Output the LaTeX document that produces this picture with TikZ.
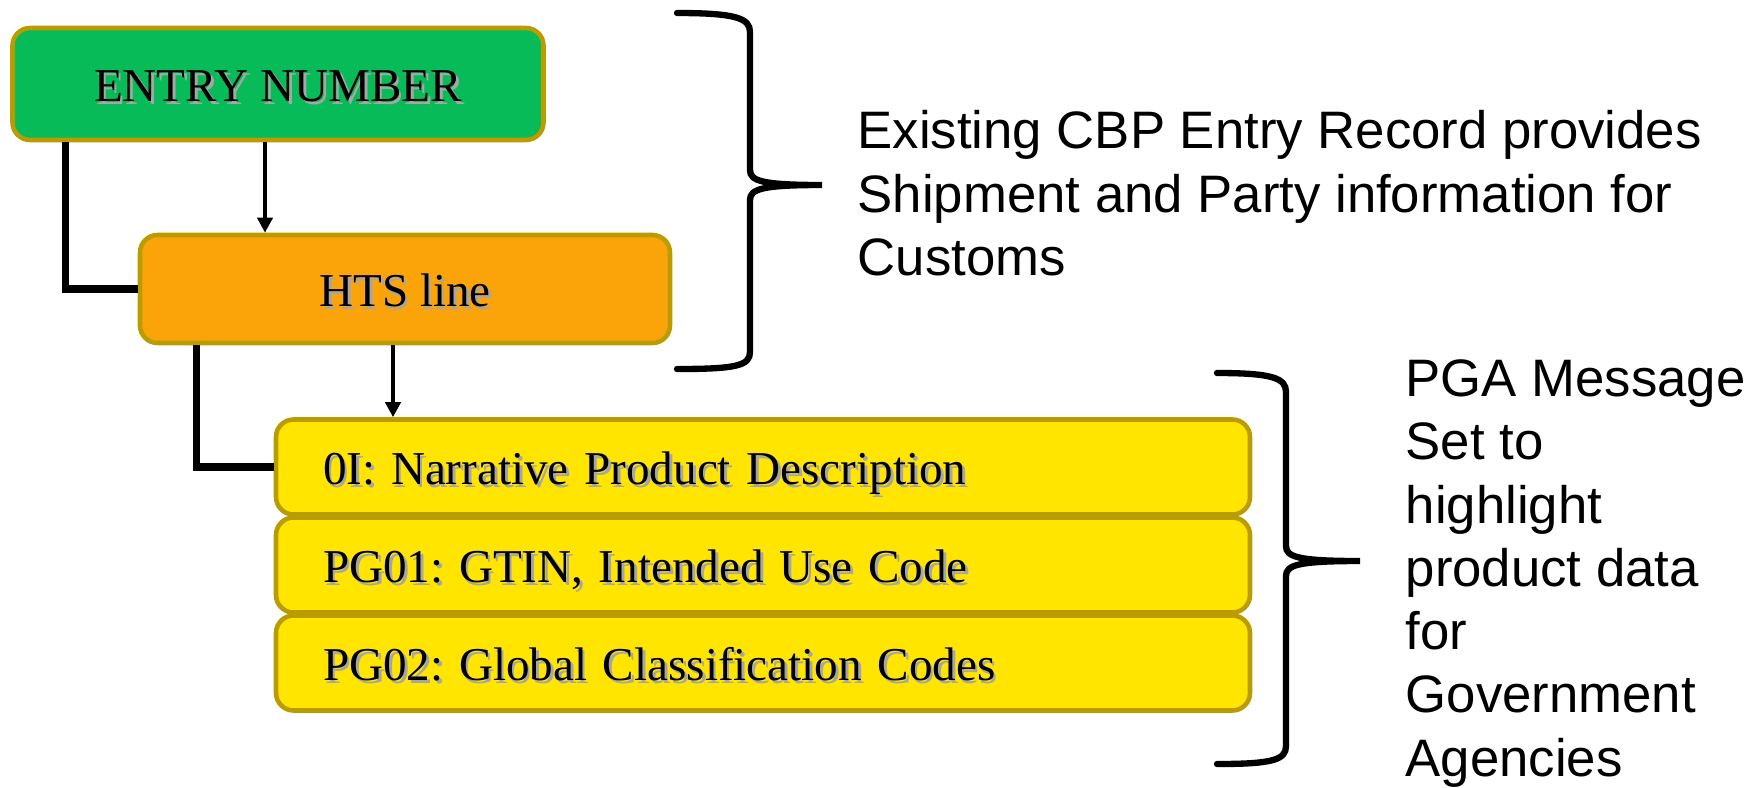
\documentclass[tikz,border=0pt]{standalone}
\usepackage{fontspec}
\setmainfont{Liberation Serif}
\setsansfont{Liberation Sans}
\usetikzlibrary{arrows.meta,positioning}
\frenchspacing

\definecolor{entrygreen}{RGB}{6,187,88}
\definecolor{htsorange}{RGB}{251,164,10}
\definecolor{pgyellow}{RGB}{255,229,0}
\definecolor{rimgold}{RGB}{186,156,0}

% box text with its soft grey shadow
\newcommand\sdw[1]{\makebox[0pt][l]{\hspace{0.8pt}\raisebox{-0.8pt}{\textcolor{black!35}{#1}}}#1}

\tikzset{
  box/.style={rounded corners=5pt, draw=rimgold, line width=1.3pt, inner sep=0pt,
    text height=10pt, text depth=0pt, font=\fontsize{13.4}{16}\selectfont},
  itembox/.style={box, fill=pgyellow, minimum width=9.74cm, minimum height=0.95cm,
    inner xsep=4.7mm, text width=8.8cm, align=left},
  elbow/.style={line width=2pt},
  arr/.style={line width=1.1pt, -{Triangle[length=4.3pt,width=4.3pt]}},
  brace/.style={line width=1.8pt, line cap=round},
  note/.style={font=\sffamily\fontsize{15}{18}\selectfont, align=left, inner sep=0pt, anchor=north west}
}

\begin{document}
\begin{tikzpicture}[x=0.1mm, y=-0.1mm]
\useasboundingbox (0,0) rectangle (1760,787);

\node[box, fill=entrygreen, minimum width=5.31cm, minimum height=1.12cm] (entry) at (278,84) {\sdw{ENTRY NUMBER}};
\node[box, fill=htsorange, minimum width=5.30cm, minimum height=1.08cm] (hts) at (405,289) {\sdw{HTS line}};

\node[itembox] (oi) at (763,467) {\sdw{0I: Narrative Product Description}};
\node[itembox] (pg01) at (763,565) {\sdw{PG01: GTIN, Intended Use Code}};
\node[itembox] (pg02) at (763,663) {\sdw{PG02: Global Classification Codes}};

% links between the levels
\draw[elbow] ([xshift=5.5mm]entry.south west) |- (hts.west);
\draw[arr] ([xshift=-1.3mm]entry.south) -- ([xshift=-1.3mm]entry.south |- hts.north);
\draw[elbow] ([xshift=5.9mm]hts.south west) |- (oi.west);
\draw[arr] ([xshift=-1.2mm]hts.south) -- ([xshift=-1.2mm]hts.south |- oi.north);

% braces
\draw[brace] (677,13) .. controls (735,13) and (750,18) .. (750,32) -- (750,170)
  .. controls (750,181) and (762,185) .. (822,185)
  .. controls (762,185) and (750,189) .. (750,200) -- (750,352)
  .. controls (750,366) and (735,369) .. (677,369);
\draw[brace] (1217,373) .. controls (1272,373) and (1286,378) .. (1286,392) -- (1286,546)
  .. controls (1286,557) and (1298,561) .. (1360,561)
  .. controls (1298,561) and (1286,565) .. (1286,576) -- (1286,746)
  .. controls (1286,760) and (1272,764) .. (1217,764);

\node[note] (cbpnote) at (857,110) {Existing CBP Entry Record provides\\Shipment and Party information for\\Customs};
\node[note] (pganote) at (1405,359) {PGA Message\\Set to\\highlight\\product data\\for\\Government\\Agencies};
\end{tikzpicture}
\end{document}
